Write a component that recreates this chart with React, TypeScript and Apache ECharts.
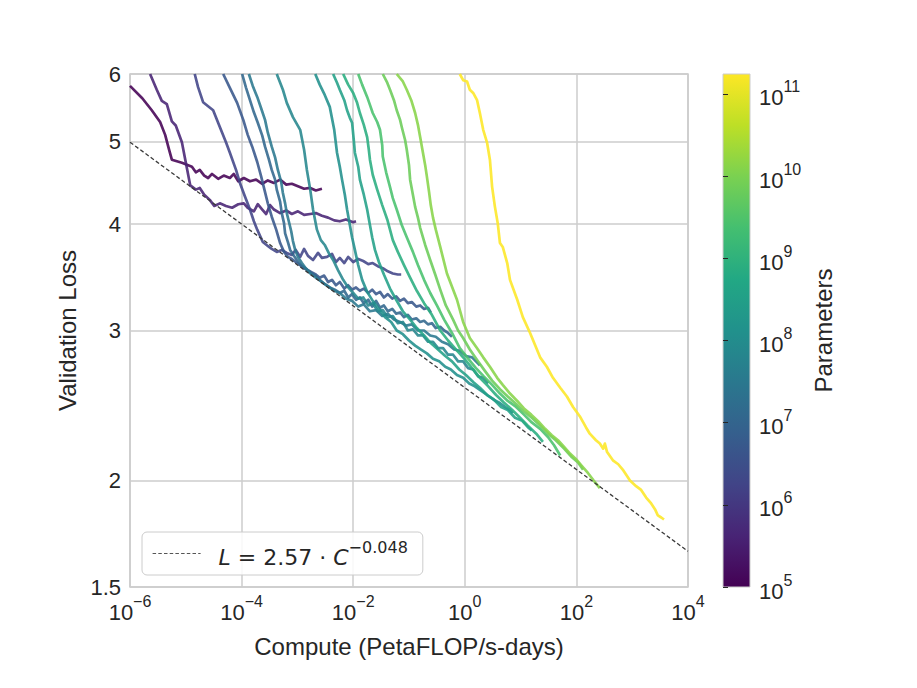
import React, { useEffect, useRef } from "react";
import * as echarts from "echarts";

// ---------- data ----------
// model sizes (parameters), one per curve (estimated from the line colours)
const params = [1e5, 4e5, 1.8e6, 5e6, 1.2e7, 3.2e7, 7e7, 1.25e8, 3.5e8, 7.6e8, 2.7e9, 6.7e9, 1.3e10, 1.75e11];

// log10(compute, PetaFLOP/s-days) and validation loss for each curve
const logC_1 = [-6.0, -5.78, -5.61, -5.46, -5.37, -5.3, -5.25, -5.07, -4.89, -4.82, -4.75, -4.67, -4.6, -4.53, -4.42, -4.32, -4.21, -4.14, -4.06, -3.96, -3.85, -3.74, -3.63, -3.53, -3.42, -3.31, -3.2, -3.1, -2.99, -2.88, -2.77, -2.67, -2.56];
const loss_1 = [5.81, 5.62, 5.44, 5.27, 5.09, 4.89, 4.76, 4.72, 4.67, 4.6, 4.63, 4.56, 4.53, 4.58, 4.52, 4.56, 4.53, 4.58, 4.49, 4.53, 4.49, 4.51, 4.46, 4.5, 4.47, 4.51, 4.45, 4.46, 4.43, 4.4, 4.41, 4.38, 4.4];

const logC_2 = [-5.64, -5.52, -5.43, -5.34, -5.25, -5.18, -5.07, -4.98, -4.92, -4.82, -4.75, -4.67, -4.57, -4.49, -4.39, -4.28, -4.17, -4.06, -3.96, -3.89, -3.78, -3.71, -3.63, -3.56, -3.49, -3.42, -3.31, -3.2, -3.1, -2.99, -2.88, -2.77, -2.67, -2.56, -2.45, -2.34, -2.24, -2.13, -2.0, -1.95];
const loss_2 = [6.0, 5.75, 5.58, 5.53, 5.28, 5.22, 4.99, 4.65, 4.44, 4.39, 4.41, 4.33, 4.27, 4.2, 4.23, 4.2, 4.18, 4.22, 4.23, 4.18, 4.14, 4.22, 4.16, 4.11, 4.21, 4.16, 4.12, 4.15, 4.11, 4.14, 4.1, 4.11, 4.12, 4.09, 4.07, 4.04, 4.03, 4.05, 4.02, 4.03];

const logC_3 = [-4.84, -4.78, -4.69, -4.6, -4.51, -4.39, -4.28, -4.21, -4.1, -4.03, -3.94, -3.85, -3.78, -3.72, -3.62, -3.53, -3.46, -3.37, -3.28, -3.19, -3.1, -3.03, -2.95, -2.88, -2.81, -2.72, -2.63, -2.56, -2.47, -2.38, -2.31, -2.24, -2.16, -2.09, -2.0, -1.91, -1.82, -1.73, -1.65, -1.56, -1.47, -1.38, -1.29, -1.2, -1.14];
const loss_3 = [6.0, 5.79, 5.56, 5.5, 5.44, 5.2, 4.99, 4.85, 4.63, 4.47, 4.31, 4.16, 4.03, 3.94, 3.81, 3.77, 3.74, 3.71, 3.73, 3.7, 3.68, 3.73, 3.66, 3.74, 3.67, 3.63, 3.7, 3.65, 3.66, 3.69, 3.61, 3.65, 3.6, 3.66, 3.61, 3.64, 3.62, 3.59, 3.6, 3.57, 3.55, 3.52, 3.5, 3.49, 3.49];

const logC_4 = [-4.33, -4.21, -4.08, -3.97, -3.89, -3.81, -3.72, -3.65, -3.58, -3.53, -3.46, -3.38, -3.31, -3.24, -3.17, -3.1, -3.03, -2.95, -2.88, -2.81, -2.74, -2.67, -2.6, -2.52, -2.45, -2.38, -2.31, -2.24, -2.16, -2.09, -2.02, -1.95, -1.88, -1.81, -1.73, -1.66, -1.59, -1.52, -1.45, -1.38, -1.3, -1.23, -1.16, -1.09, -1.02, -0.95, -0.87, -0.8, -0.73, -0.66, -0.61];
const loss_4 = [6.0, 5.78, 5.55, 5.3, 5.09, 4.93, 4.73, 4.55, 4.36, 4.23, 4.08, 3.94, 3.8, 3.71, 3.66, 3.64, 3.61, 3.58, 3.55, 3.53, 3.51, 3.49, 3.46, 3.48, 3.42, 3.44, 3.39, 3.42, 3.36, 3.39, 3.35, 3.37, 3.34, 3.36, 3.32, 3.35, 3.31, 3.33, 3.28, 3.31, 3.27, 3.29, 3.25, 3.27, 3.23, 3.24, 3.2, 3.21, 3.18, 3.19, 3.15];

const logC_5 = [-3.99, -3.92, -3.85, -3.78, -3.71, -3.63, -3.58, -3.51, -3.46, -3.4, -3.37, -3.31, -3.28, -3.24, -3.22, -3.17, -3.13, -3.06, -3.01, -2.94, -2.86, -2.77, -2.68, -2.6, -2.51, -2.42, -2.33, -2.24, -2.16, -2.09, -2.02, -1.95, -1.88, -1.81, -1.73, -1.66, -1.59, -1.52, -1.45, -1.38, -1.3, -1.23, -1.16, -1.09, -1.02, -0.95, -0.87, -0.8, -0.73, -0.66, -0.59, -0.52, -0.44, -0.37, -0.3, -0.23];
const loss_5 = [6.0, 5.78, 5.59, 5.41, 5.26, 5.08, 4.93, 4.76, 4.63, 4.51, 4.39, 4.25, 4.12, 4.01, 3.9, 3.81, 3.73, 3.67, 3.63, 3.58, 3.55, 3.51, 3.48, 3.44, 3.4, 3.37, 3.35, 3.32, 3.34, 3.28, 3.31, 3.26, 3.28, 3.23, 3.26, 3.2, 3.25, 3.19, 3.21, 3.16, 3.18, 3.14, 3.15, 3.11, 3.13, 3.09, 3.1, 3.07, 3.08, 3.05, 3.06, 3.02, 3.03, 3.0, 2.98, 2.95];

const logC_6 = [-3.87, -3.8, -3.72, -3.65, -3.58, -3.53, -3.46, -3.4, -3.35, -3.29, -3.26, -3.22, -3.19, -3.15, -3.11, -3.08, -3.04, -2.99, -2.92, -2.85, -2.77, -2.67, -2.56, -2.45, -2.34, -2.24, -2.13, -2.02, -1.91, -1.81, -1.7, -1.59, -1.48, -1.38, -1.27, -1.16, -1.05, -0.95, -0.84, -0.73, -0.62, -0.52, -0.41, -0.3, -0.19, -0.09, 0.02, 0.13, 0.2, 0.27];
const loss_6 = [6.0, 5.81, 5.64, 5.47, 5.3, 5.12, 4.93, 4.79, 4.63, 4.48, 4.35, 4.23, 4.12, 4.02, 3.92, 3.82, 3.73, 3.66, 3.6, 3.55, 3.5, 3.46, 3.42, 3.38, 3.34, 3.32, 3.27, 3.25, 3.2, 3.22, 3.16, 3.17, 3.12, 3.14, 3.09, 3.07, 3.04, 3.05, 3.0, 3.0, 2.96, 2.95, 2.91, 2.89, 2.85, 2.84, 2.8, 2.79, 2.76, 2.73];

const logC_7 = [-3.37, -3.26, -3.19, -3.08, -2.95, -2.88, -2.83, -2.77, -2.72, -2.65, -2.58, -2.51, -2.43, -2.36, -2.27, -2.18, -2.09, -2.0, -1.91, -1.82, -1.73, -1.65, -1.56, -1.47, -1.38, -1.29, -1.2, -1.11, -1.02, -0.93, -0.84, -0.75, -0.66, -0.57, -0.48, -0.39, -0.3, -0.21, -0.12, -0.03, 0.06, 0.15, 0.24, 0.33, 0.42];
const loss_7 = [6.0, 5.75, 5.55, 5.34, 5.16, 4.89, 4.63, 4.39, 4.16, 3.94, 3.83, 3.78, 3.69, 3.63, 3.53, 3.44, 3.37, 3.32, 3.27, 3.28, 3.21, 3.23, 3.16, 3.17, 3.11, 3.12, 3.06, 3.07, 3.0, 3.01, 2.96, 2.96, 2.91, 2.91, 2.86, 2.86, 2.81, 2.81, 2.76, 2.76, 2.71, 2.7, 2.65, 2.64, 2.6];

const logC_8 = [-2.68, -2.6, -2.51, -2.42, -2.34, -2.29, -2.24, -2.2, -2.15, -2.11, -2.06, -2.02, -1.97, -1.91, -1.84, -1.75, -1.65, -1.54, -1.43, -1.32, -1.22, -1.11, -1.0, -0.89, -0.79, -0.68, -0.57, -0.46, -0.35, -0.25, -0.14, -0.03, 0.08, 0.18, 0.29, 0.4, 0.51, 0.61, 0.72, 0.81, 0.86];
const loss_8 = [6.0, 5.83, 5.67, 5.49, 5.16, 4.85, 4.67, 4.51, 4.33, 4.16, 3.99, 3.86, 3.73, 3.58, 3.44, 3.33, 3.25, 3.18, 3.11, 3.07, 3.0, 2.97, 2.92, 2.88, 2.85, 2.82, 2.78, 2.76, 2.72, 2.7, 2.66, 2.64, 2.6, 2.58, 2.55, 2.52, 2.49, 2.47, 2.44, 2.42, 2.4];

const logC_9 = [-2.36, -2.29, -2.24, -2.16, -2.11, -2.06, -2.02, -1.99, -1.97, -1.91, -1.88, -1.81, -1.75, -1.7, -1.66, -1.61, -1.54, -1.45, -1.34, -1.23, -1.11, -0.98, -0.86, -0.73, -0.61, -0.48, -0.35, -0.23, -0.1, 0.02, 0.15, 0.27, 0.4, 0.52, 0.65, 0.77, 0.9, 1.03, 1.13, 1.2];
const loss_9 = [6.0, 5.86, 5.75, 5.59, 5.44, 5.33, 5.26, 5.02, 4.85, 4.67, 4.51, 4.33, 4.16, 3.99, 3.86, 3.73, 3.61, 3.49, 3.36, 3.26, 3.16, 3.09, 3.02, 2.96, 2.9, 2.85, 2.8, 2.76, 2.7, 2.66, 2.61, 2.57, 2.52, 2.49, 2.44, 2.42, 2.37, 2.35, 2.31, 2.29];

const logC_10 = [-2.18, -2.09, -2.0, -1.93, -1.88, -1.81, -1.75, -1.72, -1.7, -1.65, -1.57, -1.48, -1.39, -1.29, -1.2, -1.09, -0.98, -0.86, -0.73, -0.59, -0.44, -0.3, -0.16, -0.01, 0.13, 0.27, 0.42, 0.56, 0.7, 0.85, 0.99, 1.13, 1.28, 1.4];
const loss_10 = [6.0, 5.83, 5.7, 5.55, 5.4, 5.23, 5.06, 4.89, 4.76, 4.57, 4.39, 4.21, 4.05, 3.83, 3.71, 3.58, 3.46, 3.34, 3.23, 3.13, 3.0, 2.92, 2.85, 2.78, 2.71, 2.64, 2.58, 2.52, 2.47, 2.42, 2.37, 2.32, 2.27, 2.22];

const logC_11 = [-1.91, -1.84, -1.75, -1.7, -1.65, -1.57, -1.52, -1.48, -1.47, -1.41, -1.34, -1.29, -1.22, -1.13, -1.04, -0.93, -0.84, -0.73, -0.62, -0.5, -0.37, -0.23, -0.09, 0.06, 0.2, 0.34, 0.49, 0.63, 0.77, 0.92, 1.06, 1.2, 1.35, 1.49, 1.6, 1.71];
const loss_11 = [6.0, 5.83, 5.64, 5.52, 5.4, 5.27, 5.16, 4.95, 4.8, 4.6, 4.42, 4.29, 4.16, 3.99, 3.86, 3.71, 3.58, 3.44, 3.32, 3.21, 3.09, 2.98, 2.86, 2.78, 2.71, 2.65, 2.59, 2.53, 2.48, 2.44, 2.39, 2.34, 2.3, 2.25, 2.2, 2.14];

const logC_12 = [-1.47, -1.39, -1.34, -1.27, -1.22, -1.16, -1.13, -1.07, -1.04, -1.0, -0.98, -0.93, -0.89, -0.84, -0.8, -0.71, -0.62, -0.53, -0.44, -0.34, -0.21, -0.12, -0.03, 0.09, 0.22, 0.36, 0.49, 0.63, 0.77, 0.92, 1.06, 1.2, 1.35, 1.49, 1.63, 1.78, 1.92, 2.03, 2.12];
const loss_12 = [6.0, 5.86, 5.75, 5.59, 5.44, 5.3, 5.2, 5.02, 4.89, 4.69, 4.51, 4.33, 4.19, 4.07, 3.96, 3.78, 3.63, 3.49, 3.35, 3.21, 3.09, 3.0, 2.94, 2.85, 2.77, 2.69, 2.62, 2.56, 2.51, 2.46, 2.41, 2.37, 2.32, 2.27, 2.23, 2.18, 2.13, 2.1, 2.06];

const logC_13 = [-1.22, -1.11, -1.04, -0.96, -0.89, -0.84, -0.8, -0.75, -0.71, -0.68, -0.64, -0.61, -0.57, -0.52, -0.44, -0.32, -0.14, -0.03, 0.09, 0.22, 0.33, 0.45, 0.58, 0.68, 0.81, 0.94, 1.06, 1.19, 1.31, 1.44, 1.56, 1.67, 1.78, 1.89, 1.99, 2.1, 2.21, 2.31, 2.42];
const loss_13 = [6.0, 5.88, 5.75, 5.59, 5.4, 5.23, 5.06, 4.85, 4.69, 4.55, 4.36, 4.21, 4.07, 3.94, 3.76, 3.5, 3.26, 3.07, 2.94, 2.86, 2.79, 2.72, 2.64, 2.59, 2.53, 2.48, 2.43, 2.39, 2.35, 2.3, 2.26, 2.23, 2.19, 2.15, 2.12, 2.08, 2.04, 2.0, 1.96];

const logC_14 = [-0.09, -0.03, 0.04, 0.09, 0.15, 0.22, 0.27, 0.33, 0.4, 0.45, 0.49, 0.54, 0.59, 0.63, 0.68, 0.76, 0.81, 0.94, 1.04, 1.17, 1.35, 1.47, 1.58, 1.71, 1.83, 1.94, 2.06, 2.17, 2.24, 2.35, 2.42, 2.48, 2.51, 2.55, 2.66, 2.75, 2.83, 2.96, 3.07, 3.16, 3.25, 3.34, 3.41, 3.46, 3.52, 3.57];
const loss_14 = [6.0, 5.9, 5.88, 5.75, 5.7, 5.59, 5.4, 5.16, 4.98, 4.76, 4.42, 4.19, 4.01, 3.8, 3.76, 3.6, 3.44, 3.26, 3.11, 2.98, 2.79, 2.72, 2.64, 2.57, 2.51, 2.44, 2.38, 2.31, 2.27, 2.23, 2.21, 2.18, 2.21, 2.16, 2.11, 2.09, 2.06, 2.0, 1.97, 1.95, 1.91, 1.88, 1.85, 1.82, 1.81, 1.8];

// power-law fit L = 2.57 * C^-0.048, end points
const fitCompute = [1e-6, 1e4];
const fitLoss = [4.99, 1.652];

// tick values
const xTicks = [1e-6, 1e-4, 1e-2, 1, 1e2, 1e4];
const yTicks = [1.5, 2, 3, 4, 5, 6];
const cbarTicks = [1e5, 1e6, 1e7, 1e8, 1e9, 1e10, 1e11];
const cbarMin = 1e5;
const cbarMax = 1.75e11;

const curvesX = [logC_1, logC_2, logC_3, logC_4, logC_5, logC_6, logC_7, logC_8, logC_9, logC_10, logC_11, logC_12, logC_13, logC_14];
const curvesY = [loss_1, loss_2, loss_3, loss_4, loss_5, loss_6, loss_7, loss_8, loss_9, loss_10, loss_11, loss_12, loss_13, loss_14];

// ---------- styling helpers ----------
const FONT = '"Liberation Sans", Arial, sans-serif';
const MATH_FONT = '"DejaVu Sans", sans-serif';
const TXT = "#262626";
const GRID_C = "#cccccc";

const VIRIDIS = ["#440154", "#482475", "#414487", "#355f8d", "#2a788e", "#21918c", "#22a884", "#44bf70", "#7ad151", "#bddf26", "#fde725"];

function hexRgb(h: string) {
  return [parseInt(h.slice(1, 3), 16), parseInt(h.slice(3, 5), 16), parseInt(h.slice(5, 7), 16)];
}
function viridis(t: number) {
  const c = Math.max(0, Math.min(1, t));
  const p = c * 10;
  const i = Math.min(9, Math.floor(p));
  const f = p - i;
  const a = hexRgb(VIRIDIS[i]);
  const b = hexRgb(VIRIDIS[i + 1]);
  const r = a.map((v, k) => Math.round(v + (b[k] - v) * f));
  return `rgb(${r[0]},${r[1]},${r[2]})`;
}
const lMin = Math.log10(cbarMin);
const lMax = Math.log10(cbarMax);
const colorFor = (p: number) => viridis((Math.log10(p) - lMin) / (lMax - lMin));

const supFmt = (v: number) => {
  const e = Math.round(Math.log10(v));
  const s = e < 0 ? "\u2212" + Math.abs(e) : String(e);
  return `{b|10}{s|${s}}`;
};
const supRich = {
  b: { fontFamily: FONT, fontSize: 22, color: TXT, lineHeight: 30, verticalAlign: "bottom" },
  s: { fontFamily: FONT, fontSize: 16, color: TXT, lineHeight: 17, verticalAlign: "top" },
};

export default function App() {
  const ref = useRef<HTMLDivElement>(null);
  useEffect(() => {
    if (!ref.current) return;
    const chart = echarts.init(ref.current, null, { renderer: "svg" });

    const gradStops = VIRIDIS.map((c, i) => ({ offset: i / 10, color: c }));
    const cbarFill = new echarts.graphic.LinearGradient(0, 1, 0, 0, gradStops);

    const curveSeries = curvesX.map((xs, i) => {
      const ys = curvesY[i];
      const n = Math.min(xs.length, ys.length);
      const data: number[][] = [];
      for (let j = 0; j < n; j++) data.push([Math.pow(10, xs[j]), ys[j]]);
      const col = colorFor(params[i]);
      return {
        type: "line",
        name: "N" + i,
        xAxisIndex: 0,
        yAxisIndex: 0,
        data,
        symbol: "none",
        showSymbol: false,
        clip: true,
        silent: true,
        z: 2,
        lineStyle: { width: 2.7, color: col, opacity: 0.88, join: "round" },
        itemStyle: { color: col },
      };
    });

    const fitSeries = {
      type: "line",
      name: "fit",
      xAxisIndex: 0,
      yAxisIndex: 0,
      data: fitCompute.map((c, i) => [c, fitLoss[i]]),
      symbol: "none",
      showSymbol: false,
      silent: true,
      clip: true,
      z: 5,
      lineStyle: { width: 1.3, color: "#3a3a3a", type: [4, 2.4] },
      itemStyle: { color: "#3a3a3a" },
    };

    chart.setOption({
      animation: false,
      backgroundColor: "#ffffff",
      grid: [
        { left: 130, top: 74, width: 558, height: 513, show: true, borderColor: GRID_C, borderWidth: 1.5, backgroundColor: "transparent" },
        { left: 723, top: 74, width: 27, height: 513, show: true, borderColor: GRID_C, borderWidth: 1, backgroundColor: cbarFill },
      ],
      xAxis: [
        {
          type: "log",
          logBase: 10,
          gridIndex: 0,
          min: 1e-6,
          max: 1e4,
          name: "Compute (PetaFLOP/s-days)",
          nameLocation: "middle",
          nameGap: 47,
          nameTextStyle: { fontFamily: FONT, fontSize: 24, color: TXT },
          axisLine: { show: false },
          axisTick: { show: false, customValues: xTicks },
          axisLabel: { customValues: xTicks, margin: 6, formatter: (v: number) => supFmt(v), rich: supRich },
          splitLine: { show: true, lineStyle: { color: GRID_C, width: 1.5 } },
        },
        { type: "value", gridIndex: 1, min: 0, max: 1, show: false },
      ],
      yAxis: [
        {
          type: "log",
          logBase: 10,
          gridIndex: 0,
          min: 1.5,
          max: 6,
          name: "Validation Loss",
          nameLocation: "middle",
          nameGap: 50,
          nameRotate: 90,
          nameTextStyle: { fontFamily: FONT, fontSize: 24, color: TXT },
          axisLine: { show: false },
          axisTick: { show: false, customValues: yTicks },
          axisLabel: {
            customValues: yTicks,
            margin: 9,
            fontFamily: FONT,
            fontSize: 22,
            color: TXT,
            formatter: (v: number) => String(Number(v.toPrecision(3))),
          },
          splitLine: { show: true, lineStyle: { color: GRID_C, width: 1.5 } },
        },
        {
          type: "log",
          logBase: 10,
          gridIndex: 1,
          min: cbarMin,
          max: cbarMax,
          position: "right",
          name: "Parameters",
          nameLocation: "middle",
          nameGap: 61,
          nameRotate: 90,
          nameTextStyle: { fontFamily: FONT, fontSize: 24, color: TXT },
          axisLine: { show: false },
          axisTick: { show: true, length: 5, customValues: cbarTicks, lineStyle: { color: TXT, width: 1 } },
          axisLabel: { customValues: cbarTicks, margin: 9, formatter: (v: number) => supFmt(v), rich: supRich },
          splitLine: { show: false },
        },
      ],
      legend: {
        show: true,
        data: [{ name: "fit" }],
        left: 142,
        top: 532,
        orient: "horizontal",
        itemWidth: 48,
        itemHeight: 14,
        selectedMode: false,
        itemStyle: { opacity: 0 },
        lineStyle: { color: "#555555", width: 1.2, type: [3.5, 2.2] },
        backgroundColor: "rgba(255,255,255,0.85)",
        borderColor: GRID_C,
        borderWidth: 1,
        borderRadius: 5,
        padding: [7, 15, 7, 10],
        formatter: () => "{iL|L}{n| = 2.57 \u00b7 }{i|C}{s|\u22120.048}",
        textStyle: {
          fontFamily: MATH_FONT,
          fontSize: 22,
          color: TXT,
          rich: {
            iL: { fontFamily: MATH_FONT, fontSize: 22, fontStyle: "italic", color: TXT, lineHeight: 29, verticalAlign: "bottom", padding: [0, 0, 0, 13] },
            i: { fontFamily: MATH_FONT, fontSize: 22, fontStyle: "italic", color: TXT, lineHeight: 29, verticalAlign: "bottom" },
            n: { fontFamily: MATH_FONT, fontSize: 22, color: TXT, lineHeight: 29, verticalAlign: "bottom" },
            s: { fontFamily: MATH_FONT, fontSize: 16, color: TXT, lineHeight: 17, verticalAlign: "top" },
          },
        },
      },
      series: [...curveSeries, fitSeries],
    });

    return () => chart.dispose();
  }, []);

  return (
    <div
      ref={ref}
      style={{ position: "fixed", left: 0, top: 0, width: 917, height: 688, background: "#ffffff" }}
    />
  );
}
